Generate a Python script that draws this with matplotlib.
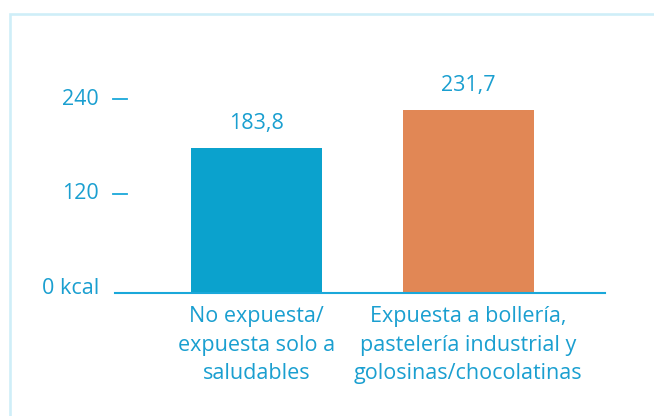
import matplotlib
matplotlib.use("Agg")
import matplotlib.pyplot as plt
from matplotlib.patches import Rectangle
from matplotlib import transforms

categories = ["No expuesta/\nexpuesta solo a\nsaludables",
              "Expuesta a bollería,\npastelería industrial y\ngolosinas/chocolatinas"]
values = [183.8, 231.7]
value_labels = ["183,8", "231,7"]
tick_values = [0, 120, 240]
tick_labels = ["0 kcal", "120", "240"]

TEXT = "#1a9fd0"
BAR_COLORS = ["#0ba2cd", "#e18755"]
FRAME = "#cfeef8"

plt.rcParams["font.family"] = ["Open Sans", "DejaVu Sans"]

W, H, DPI = 654, 416, 100
fig = plt.figure(figsize=(W / DPI, H / DPI), dpi=DPI)
fig.patch.set_facecolor("white")

# light frame around the panel
fig.patches.append(Rectangle((9.5 / W, -0.1), 1.2, 1.1 - 13.5 / H,
                             transform=fig.transFigure, fill=False,
                             edgecolor=FRAME, linewidth=1.9))

left, right = 115, 605
bottom_px = 292.5
ymax = 260
px_per_unit = 0.786
top_px = bottom_px - ymax * px_per_unit
ax = fig.add_axes([left / W, (H - bottom_px) / H, (right - left) / W,
                   (bottom_px - top_px) / H])

x = list(range(len(values)))
ax.bar(x, values, width=0.62, color=BAR_COLORS, zorder=2)
ax.set_xlim(-0.671, 1.648)
ax.set_ylim(0, ymax)

for s in ["left", "right", "top"]:
    ax.spines[s].set_visible(False)
ax.spines["bottom"].set_color("#1aa8da")
ax.spines["bottom"].set_linewidth(1.5)

ax.set_yticks([])
ax.set_xticks(x)
ax.set_xticklabels(categories, color=TEXT, fontsize=15.5, linespacing=1.45)
ax.tick_params(axis="x", length=0, pad=10)

# value labels above bars
for xi, v, lab in zip(x, values, value_labels):
    ax.annotate(lab, xy=(xi, v), xytext=(0, 19), textcoords="offset pixels",
                ha="center", va="baseline", color=TEXT, fontsize=15.5,
                annotation_clip=False)

# y tick labels with short dashes
blend = transforms.blended_transform_factory(ax.transAxes, ax.transData)
for v, lab in zip(tick_values, tick_labels):
    ax.annotate(lab, xy=(0, v), xycoords=blend, xytext=(-16, 4.5),
                textcoords="offset pixels", ha="right", va="center",
                color=TEXT, fontsize=15.5, annotation_clip=False)
    if v != 0:
        dash_tr = transforms.offset_copy(blend, fig=fig, x=0, y=4.5, units="dots")
        ax.plot([-2 / (right - left), 12 / (right - left)], [v, v],
                transform=dash_tr, color="#1aa8da", lw=1.3, clip_on=False)

fig.savefig("out.png", dpi=DPI)
